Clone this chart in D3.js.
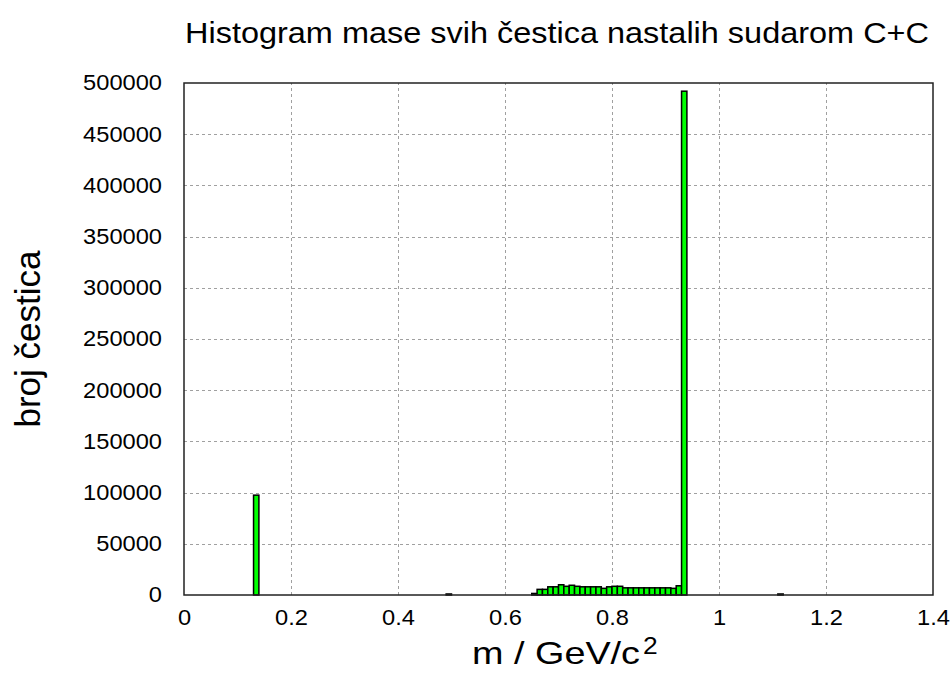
<!DOCTYPE html>
<html><head><meta charset="utf-8">
<script src="https://cdn.jsdelivr.net/npm/d3@7"></script>
<style>body{margin:0;background:#fff}svg{display:block}text{font-family:"Liberation Sans",Arial,sans-serif;fill:#000}</style>
</head><body>
<script>
// Histogram data: bin start (GeV/c^2), bin width 0.01
const binStarts = [0.13, 0.49, 0.65, 0.66, 0.67, 0.68, 0.69, 0.70, 0.71, 0.72, 0.73, 0.74, 0.75, 0.76, 0.77, 0.78, 0.79, 0.80, 0.81, 0.82, 0.83, 0.84, 0.85, 0.86, 0.87, 0.88, 0.89, 0.90, 0.91, 0.92, 0.93, 1.11];
const counts    = [97500, 1000, 1500, 5500, 5500, 8000, 8000, 10000, 8500, 9500, 8500, 8000, 8000, 8000, 8000, 6500, 8000, 8500, 8500, 7000, 7000, 7000, 7000, 7000, 7000, 7000, 7000, 7000, 6500, 9000, 492000, 1000];
const binWidth = 0.01;
const xTicks = [0, 0.2, 0.4, 0.6, 0.8, 1, 1.2, 1.4];
const yTicks = [0, 50000, 100000, 150000, 200000, 250000, 300000, 350000, 400000, 450000, 500000];
const titleText = "Histogram mase svih čestica nastalih sudarom C+C";
const xLabel = "m / GeV/c";
const xLabelSup = "2";
const yLabel = "broj čestica";

const W = 951, H = 673;
const STRETCH = 1.1; // horizontal stretch of glyphs in the reference
const m = {left:184, right:951-933, top:83, bottom:673-595};
const svg = d3.select("body").append("svg").attr("width", W).attr("height", H);
const x = d3.scaleLinear().domain([0, 1.4]).range([m.left, W - m.right]);
const y = d3.scaleLinear().domain([0, 500000]).range([H - m.bottom, m.top]);

function stretch(sel) {
  sel.each(function() {
    const len = this.getComputedTextLength();
    d3.select(this).attr("textLength", len * STRETCH).attr("lengthAdjust", "spacingAndGlyphs");
  });
}

// grid
const g = svg.append("g");
g.selectAll(".gx").data(xTicks.filter(d => d > 0 && d < 1.4)).join("line")
  .attr("x1", d => Math.round(x(d)) + 0.5).attr("x2", d => Math.round(x(d)) + 0.5)
  .attr("y1", y(0)).attr("y2", y(500000))
  .attr("stroke", "#a0a0a0").attr("stroke-width", 1).attr("stroke-dasharray", "3,3");
g.selectAll(".gy").data(yTicks.filter(d => d > 0 && d < 500000)).join("line")
  .attr("y1", d => Math.round(y(d)) + 0.5).attr("y2", d => Math.round(y(d)) + 0.5)
  .attr("x1", x(0)).attr("x2", x(1.4))
  .attr("stroke", "#a0a0a0").attr("stroke-width", 1).attr("stroke-dasharray", "3,3");

// bars
svg.append("g").selectAll("rect").data(binStarts.map((b, i) => ({b, c: counts[i]}))).join("rect")
  .attr("x", d => x(d.b)).attr("width", d => x(d.b + binWidth) - x(d.b))
  .attr("y", d => y(d.c)).attr("height", d => y(0) - y(d.c))
  .attr("fill", "#00ff00").attr("stroke", "#000").attr("stroke-width", 1.5);

// border
svg.append("rect").attr("x", x(0)).attr("y", y(500000))
  .attr("width", x(1.4) - x(0)).attr("height", y(0) - y(500000))
  .attr("fill", "none").attr("stroke", "#222").attr("stroke-width", 1.5);

// axes (labels only)
const xAxis = d3.axisBottom(x).tickValues(xTicks).tickFormat(d3.format("")).tickSize(0).tickPadding(15);
const xa = svg.append("g").attr("transform", `translate(0,${y(0)})`).call(xAxis);
xa.select(".domain").remove();
xa.selectAll("text").attr("font-size", 21.5).attr("fill", "#000").style("font-family", '"Liberation Sans",Arial,sans-serif').call(stretch);

const yAxis = d3.axisLeft(y).tickValues(yTicks).tickFormat(d3.format("d")).tickSize(0).tickPadding(22);
const ya = svg.append("g").attr("transform", `translate(${x(0)},0)`).call(yAxis);
ya.select(".domain").remove();
ya.selectAll("text").attr("font-size", 21.5).attr("fill", "#000").style("font-family", '"Liberation Sans",Arial,sans-serif').call(stretch);

// title
svg.append("text").attr("x", 557).attr("y", 43).attr("text-anchor", "middle")
  .attr("font-size", 29.5).text(titleText).call(stretch);

// x label
const xlMain = svg.append("text").attr("x", 472).attr("y", 664).attr("text-anchor", "start")
  .attr("font-size", 32).text(xLabel);
xlMain.attr("textLength", 168).attr("lengthAdjust", "spacingAndGlyphs");
svg.append("text").attr("x", 643).attr("y", 654).attr("text-anchor", "start")
  .attr("font-size", 24).text(xLabelSup).call(stretch);

// y label
svg.append("text").attr("transform", "translate(40,339) rotate(-90)").attr("text-anchor", "middle")
  .attr("font-size", 35).text(yLabel);
</script>
</body></html>
